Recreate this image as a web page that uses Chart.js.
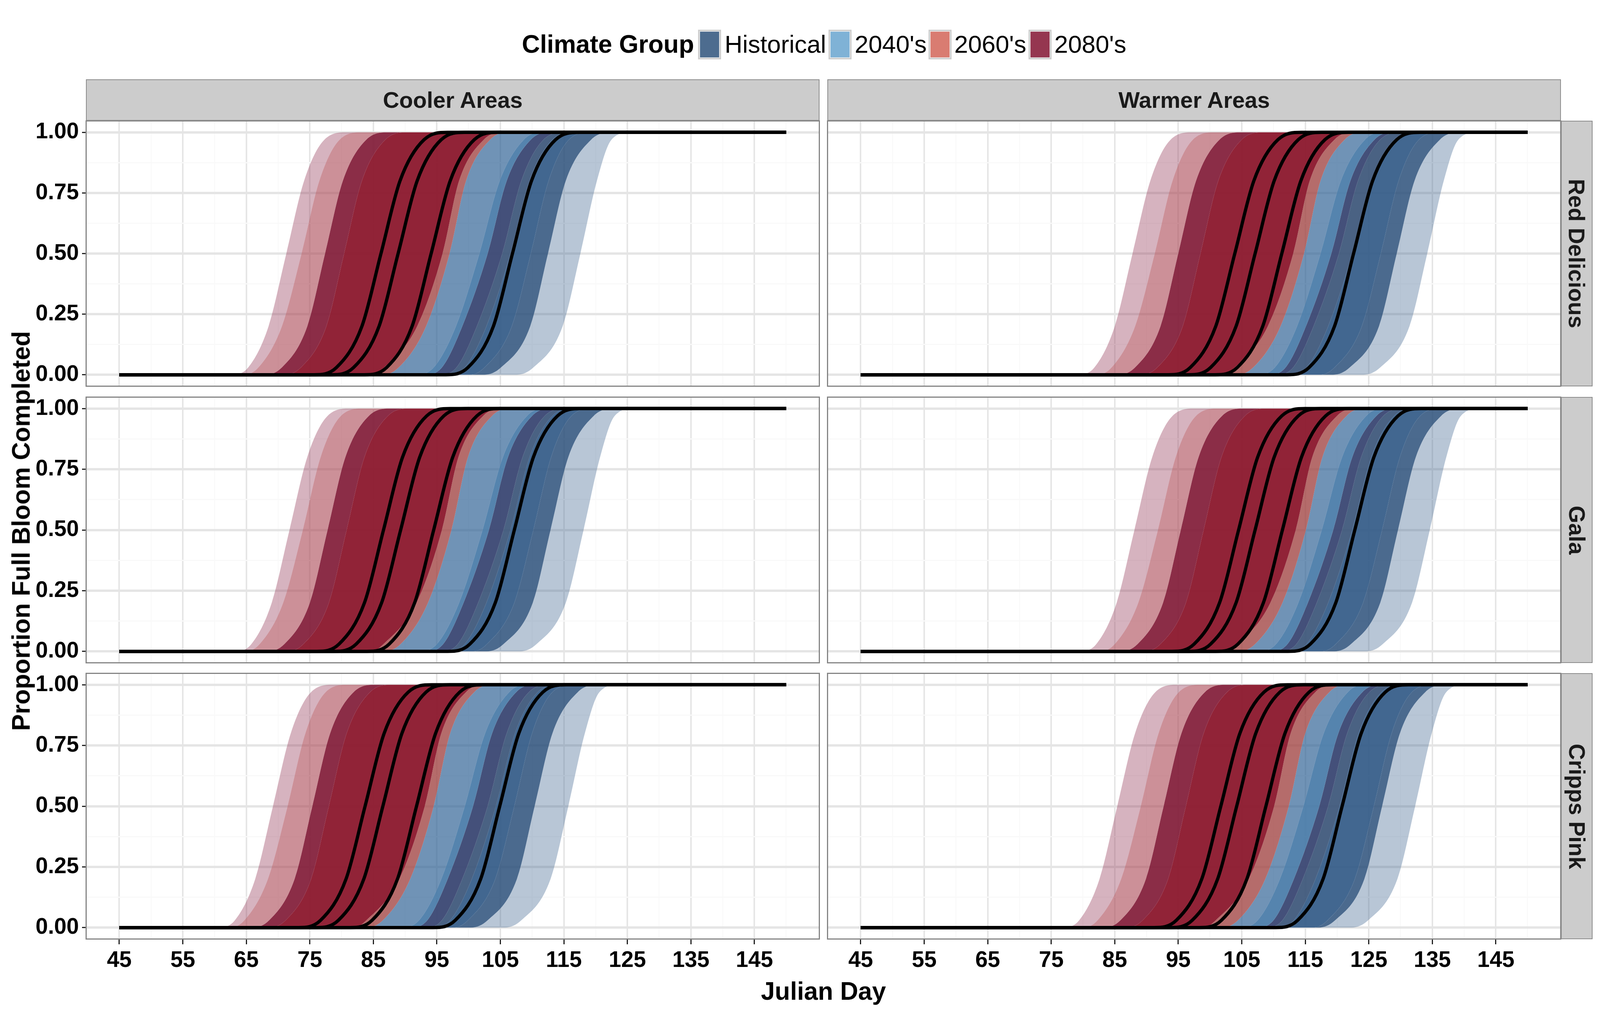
<!DOCTYPE html>
<html>
<head>
<meta charset="utf-8">
<title>Proportion Full Bloom Completed</title>
<script src="https://cdn.jsdelivr.net/npm/chart.js@4"></script>
<style>
    html, body { margin: 0; padding: 0; background: #fff; overflow: hidden; }
    body { font-family: "Liberation Sans", Arial, sans-serif; }
    canvas { position: absolute; display: block; }
    .txt { position: absolute; white-space: nowrap; line-height: 1; color: #000; }
    .strip { position: absolute; box-sizing: border-box; background: #ccc; border: 2px solid #8c8c8c;
             display: flex; align-items: center; justify-content: center;
             font-weight: bold; color: #1a1a1a; white-space: nowrap; }
    .frame { position: absolute; box-sizing: border-box; border: 3px solid #858585; pointer-events: none; }
    .key { position: absolute; box-sizing: border-box; border: 4px solid #cfcfcf; background: #fff; padding: 1px; }
    .key div { width: 100%; height: 100%; }
</style>
</head>
<body>
<script>
/* ============================================
   DATA
   ============================================ */

const legendLabels = ["Historical", "2040's", "2060's", "2080's"];
const columnLabels = ["Cooler Areas", "Warmer Areas"];
const rowLabels = ["Red Delicious", "Gala", "Cripps Pink"];

const dayTicks = [45, 55, 65, 75, 85, 95, 105, 115, 125, 135, 145];
const dayMinorTicks = [50, 60, 70, 80, 90, 100, 110, 120, 130, 140, 150];
const proportionTicks = [0, 0.25, 0.5, 0.75, 1];
const proportionMinorTicks = [0.125, 0.375, 0.625, 0.875];

// every curve runs flat from first to last day
const firstDay = 45;
const lastDay = 150;
// the proportion each column of the tables below is read at
const proportionLevels = [0, 0.03, 0.2, 0.5, 0.8, 0.97, 1];

// colour band edges, Julian day at each proportion level, left to right
const coolerRedEdges = [
    [62.8, 65.3, 68.5, 71.3, 74.1, 77.3, 80.8],
    [64.7, 66.9, 70.6, 73.7, 76.5, 79.7, 83.2],
    [67.9, 70.6, 74.6, 77.4, 80.2, 83.9, 87.4],
    [70.9, 73.6, 77.6, 80.4, 83.2, 86.9, 90.4],
    [84.9, 86.7, 91.9, 95.9, 98.5, 102.4, 105.4],
    [86.5, 89.0, 93.3, 97.0, 99.6, 103.4, 106.5],
    [91.7, 94.5, 98.0, 101.7, 104.9, 108.7, 111.7],
    [93.0, 95.8, 99.0, 103.0, 106.0, 109.8, 113.0],
    [95.3, 98.1, 101.3, 105.3, 108.3, 111.8, 115.3],
    [96.6, 99.4, 102.8, 106.6, 109.6, 113.2, 116.6],
    [100.3, 102.5, 106.8, 109.8, 112.6, 115.8, 119.3],
    [102.5, 105.1, 109.7, 112.5, 115.3, 119.3, 122.5],
    [107.6, 110.2, 114.8, 117.6, 120.2, 122.5, 125.6]
];
const coolerRedMedians = [
    [75.7, 79.2, 83.2, 86.2, 89.2, 93.0, 96.7],
    [78.4, 81.9, 85.9, 88.9, 91.9, 95.7, 99.4],
    [83.6, 87.1, 91.1, 94.1, 97.1, 100.9, 104.6],
    [96.4, 99.9, 103.9, 106.9, 109.9, 113.7, 117.4]
];

const coolerGalaEdges = [
    [63.3, 65.8, 69.0, 71.8, 74.6, 77.8, 81.3],
    [64.9, 67.1, 70.8, 73.9, 76.7, 79.9, 83.4],
    [68.3, 71.0, 75.0, 77.8, 80.6, 84.3, 87.8],
    [71.3, 74.0, 78.0, 80.8, 83.6, 87.3, 90.8],
    [84.8, 86.6, 91.8, 95.8, 98.4, 102.3, 105.3],
    [86.8, 89.3, 93.6, 97.3, 99.9, 103.7, 106.8],
    [92.2, 95.0, 98.5, 102.2, 105.4, 109.2, 112.2],
    [93.2, 96.0, 99.2, 103.2, 106.2, 110.0, 113.2],
    [95.5, 98.3, 101.5, 105.5, 108.5, 112.0, 115.5],
    [96.6, 99.4, 102.8, 106.6, 109.6, 113.2, 116.6],
    [100.7, 102.9, 107.2, 110.2, 113.0, 116.2, 119.7],
    [102.9, 105.5, 110.1, 112.9, 115.7, 119.7, 122.9],
    [108.1, 110.7, 115.3, 118.1, 120.7, 123.0, 126.1]
];
const coolerGalaMedians = [
    [76.1, 79.6, 83.6, 86.6, 89.6, 93.4, 97.1],
    [78.8, 82.3, 86.3, 89.3, 92.3, 96.1, 99.8],
    [84.0, 87.5, 91.5, 94.5, 97.5, 101.3, 105.0],
    [96.7, 100.2, 104.2, 107.2, 110.2, 114.0, 117.7]
];

const coolerCrippsEdges = [
    [60.7, 63.2, 66.4, 69.2, 72.0, 75.2, 78.7],
    [62.5, 64.7, 68.4, 71.5, 74.3, 77.5, 81.0],
    [65.9, 68.6, 72.6, 75.4, 78.2, 81.9, 85.4],
    [68.5, 71.2, 75.2, 78.0, 80.8, 84.5, 88.0],
    [82.1, 83.9, 89.1, 93.1, 95.7, 99.6, 102.6],
    [84.0, 86.5, 90.8, 94.5, 97.1, 100.9, 104.0],
    [89.4, 92.2, 95.7, 99.4, 102.6, 106.4, 109.4],
    [90.7, 93.5, 96.7, 100.7, 103.7, 107.5, 110.7],
    [93.0, 95.8, 99.0, 103.0, 106.0, 109.5, 113.0],
    [94.3, 97.1, 100.5, 104.3, 107.3, 110.9, 114.3],
    [97.7, 99.9, 104.2, 107.2, 110.0, 113.2, 116.7],
    [100.4, 103.0, 107.6, 110.4, 113.2, 117.2, 120.4],
    [105.7, 108.3, 112.9, 115.7, 118.3, 120.6, 123.7]
];
const coolerCrippsMedians = [
    [73.2, 76.7, 80.7, 83.7, 86.7, 90.5, 94.2],
    [76.0, 79.5, 83.5, 86.5, 89.5, 93.3, 97.0],
    [81.3, 84.8, 88.8, 91.8, 94.8, 98.6, 102.3],
    [94.4, 97.9, 101.9, 104.9, 107.9, 111.7, 115.4]
];

const warmerRedEdges = [
    [79.3, 81.8, 85.0, 87.8, 90.6, 93.8, 97.3],
    [82.3, 84.5, 88.2, 91.3, 94.1, 97.3, 100.8],
    [85.5, 88.2, 92.2, 95.0, 97.8, 101.5, 105.0],
    [89.0, 91.7, 95.7, 98.5, 101.3, 105.0, 108.5],
    [102.1, 103.9, 109.1, 113.1, 115.7, 119.6, 122.6],
    [104.3, 106.8, 111.1, 114.8, 117.4, 121.2, 124.3],
    [107.4, 110.2, 113.7, 117.4, 120.6, 124.4, 127.4],
    [109.1, 111.9, 115.1, 119.1, 122.1, 125.9, 129.1],
    [110.3, 113.1, 116.3, 120.3, 123.3, 126.8, 130.3],
    [112.4, 115.2, 118.6, 122.4, 125.4, 129.0, 132.4],
    [117.4, 119.6, 123.9, 126.9, 129.7, 132.9, 136.4],
    [119.4, 122.0, 126.6, 129.4, 132.2, 136.2, 139.4],
    [124.2, 126.8, 131.4, 134.2, 136.8, 139.1, 142.2]
];
const warmerRedMedians = [
    [93.4, 96.9, 100.9, 103.9, 106.9, 110.7, 114.4],
    [96.6, 100.1, 104.1, 107.1, 110.1, 113.9, 117.6],
    [100.8, 104.3, 108.3, 111.3, 114.3, 118.1, 121.8],
    [112.1, 115.6, 119.6, 122.6, 125.6, 129.4, 133.1]
];

const warmerGalaEdges = [
    [79.6, 82.1, 85.3, 88.1, 90.9, 94.1, 97.6],
    [82.8, 85.0, 88.7, 91.8, 94.6, 97.8, 101.3],
    [85.9, 88.6, 92.6, 95.4, 98.2, 101.9, 105.4],
    [89.5, 92.2, 96.2, 99.0, 101.8, 105.5, 109.0],
    [102.5, 104.3, 109.5, 113.5, 116.1, 120.0, 123.0],
    [104.6, 107.1, 111.4, 115.1, 117.7, 121.5, 124.6],
    [107.6, 110.4, 113.9, 117.6, 120.8, 124.6, 127.6],
    [109.4, 112.2, 115.4, 119.4, 122.4, 126.2, 129.4],
    [110.8, 113.6, 116.8, 120.8, 123.8, 127.3, 130.8],
    [112.4, 115.2, 118.6, 122.4, 125.4, 129.0, 132.4],
    [117.6, 119.8, 124.1, 127.1, 129.9, 133.1, 136.6],
    [119.6, 122.2, 126.8, 129.6, 132.4, 136.4, 139.6],
    [124.6, 127.2, 131.8, 134.6, 137.2, 139.5, 142.6]
];
const warmerGalaMedians = [
    [94.0, 97.5, 101.5, 104.5, 107.5, 111.3, 115.0],
    [96.6, 100.1, 104.1, 107.1, 110.1, 113.9, 117.6],
    [100.9, 104.4, 108.4, 111.4, 114.4, 118.2, 121.9],
    [112.3, 115.8, 119.8, 122.8, 125.8, 129.6, 133.3]
];

const warmerCrippsEdges = [
    [76.9, 79.4, 82.6, 85.4, 88.2, 91.4, 94.9],
    [80.1, 82.3, 86.0, 89.1, 91.9, 95.1, 98.6],
    [83.2, 85.9, 89.9, 92.7, 95.5, 99.2, 102.7],
    [86.7, 89.4, 93.4, 96.2, 99.0, 102.7, 106.2],
    [99.1, 100.9, 106.1, 110.1, 112.7, 116.6, 119.6],
    [101.9, 104.4, 108.7, 112.4, 115.0, 118.8, 121.9],
    [104.7, 107.5, 111.0, 114.7, 117.9, 121.7, 124.7],
    [107.2, 110.0, 113.2, 117.2, 120.2, 124.0, 127.2],
    [108.6, 111.4, 114.6, 118.6, 121.6, 125.1, 128.6],
    [110.4, 113.2, 116.6, 120.4, 123.4, 127.0, 130.4],
    [116.3, 118.5, 122.8, 125.8, 128.6, 131.8, 135.3],
    [117.1, 119.7, 124.3, 127.1, 129.9, 133.9, 137.1],
    [122.3, 124.9, 129.5, 132.3, 134.9, 137.2, 140.3]
];
const warmerCrippsMedians = [
    [91.2, 94.7, 98.7, 101.7, 104.7, 108.5, 112.2],
    [93.7, 97.2, 101.2, 104.2, 107.2, 111.0, 114.7],
    [98.3, 101.8, 105.8, 108.8, 111.8, 115.6, 119.3],
    [110.3, 113.8, 117.8, 120.8, 123.8, 127.6, 131.3]
];

/* ============================================
   STYLE AND LAYOUT
   ============================================ */

const legendColors = ["#4d6c8f", "#7fb2d6", "#d97c71", "#953650"];

// fill between edge n and edge n + 1
const bandColors = [
    "rgba(152,65,95,0.4)",
    "rgba(170,70,83,0.6)",
    "rgba(126,22,51,0.9)",
    "rgba(139,23,44,0.95)",
    "rgba(162,71,70,0.8)",
    "rgba(51,101,151,0.7)",
    "rgba(66,119,165,0.9)",
    "rgba(58,71,115,0.95)",
    "rgba(54,81,118,0.9)",
    "rgba(45,87,132,0.9)",
    "rgba(44,80,122,0.85)",
    "rgba(78,113,152,0.4)"
];

// layout is measured on a 5314 x 2598 page and follows the real window size
const scaleX = window.innerWidth / 5314;
const scaleY = window.innerHeight / 2598;
const scaleFont = Math.min(scaleX, scaleY);
const scaleLine = (scaleX + scaleY) / 2;

function px(value) { return Math.round(value * scaleX); }
function py(value) { return Math.round(value * scaleY); }

const columns = [{ left: 286, right: 2722 }, { left: 2748, right: 5184 }];
const rows = [{ top: 309, bottom: 989 }, { top: 1016, bottom: 1697 }, { top: 1723, bottom: 2404 }];

const panelTables = [
    [[coolerRedEdges, coolerRedMedians], [coolerGalaEdges, coolerGalaMedians], [coolerCrippsEdges, coolerCrippsMedians]],
    [[warmerRedEdges, warmerRedMedians], [warmerGalaEdges, warmerGalaMedians], [warmerCrippsEdges, warmerCrippsMedians]]
];

Chart.defaults.font.family = '"Liberation Sans", Arial, sans-serif';
Chart.defaults.animation = false;

function curvePoints(days) {
    const points = [{ x: firstDay, y: 0 }];
    days.forEach(function (day, i) {
        points.push({ x: day, y: proportionLevels[i] });
    });
    points.push({ x: lastDay, y: 1 });
    return points;
}

function buildDatasets(edges, medians) {
    const datasets = [];
    edges.forEach(function (days, i) {
        datasets.push({
            data: curvePoints(days),
            fill: i < bandColors.length ? "+1" : false,
            backgroundColor: bandColors[i] || "transparent",
            borderWidth: 0,
            pointRadius: 0,
            cubicInterpolationMode: "monotone",
            order: 2
        });
    });
    medians.forEach(function (days) {
        datasets.push({
            data: curvePoints(days),
            fill: false,
            borderColor: "#000",
            borderWidth: 9.5 * scaleLine,
            borderCapStyle: "butt",
            borderJoinStyle: "round",
            pointRadius: 0,
            cubicInterpolationMode: "monotone",
            order: 1
        });
    });
    return datasets;
}

function axisOptions(major, minor, range, showLabels, boxSize, label, majorWidth, minorWidth, tickLength) {
    const isMajor = function (value) { return major.indexOf(value) !== -1; };
    return {
        type: "linear",
        min: range[0],
        max: range[1],
        border: { display: false },
        grid: {
            color: function (ctx) { return isMajor(ctx.tick.value) ? "#e5e5e5" : "#f9f9f9"; },
            lineWidth: function (ctx) { return isMajor(ctx.tick.value) ? majorWidth : minorWidth; },
            drawTicks: showLabels,
            tickLength: tickLength,
            tickWidth: 3 * scaleLine,
            tickColor: function (ctx) { return isMajor(ctx.tick.value) ? "#000" : "transparent"; }
        },
        ticks: {
            display: showLabels,
            autoSkip: false,
            maxRotation: 0,
            padding: 8,
            color: "#000",
            font: { size: 74 * scaleFont, weight: "bold" },
            callback: function (value) { return isMajor(value) ? label(value) : ""; }
        },
        afterBuildTicks: function (scale) {
            scale.ticks = major.concat(minor).sort(function (a, b) { return a - b; })
                .map(function (value) { return { value: value }; });
        },
        afterFit: function (scale) {
            // the plot area has to stay the exact panel box, whatever the labels want
            if (scale.isHorizontal()) { scale.height = boxSize; } else { scale.width = boxSize; }
            scale.paddingTop = 0;
            scale.paddingBottom = 0;
            scale.paddingLeft = 0;
            scale.paddingRight = 0;
        }
    };
}

/* ============================================
   PANELS
   ============================================ */

columns.forEach(function (column, c) {
    rows.forEach(function (row, r) {
        const hasY = c === 0;
        const hasX = r === rows.length - 1;
        const left = px(column.left);
        const top = py(row.top);
        const width = px(column.right) - left;
        const height = py(row.bottom) - top;
        const yBox = hasY ? left : 0;
        const xBox = hasX ? window.innerHeight - (top + height) : 0;

        const canvas = document.createElement("canvas");
        canvas.width = width + yBox;
        canvas.height = height + xBox;
        canvas.style.left = (hasY ? 0 : left) + "px";
        canvas.style.top = top + "px";
        canvas.style.width = canvas.width + "px";
        canvas.style.height = canvas.height + "px";
        document.body.appendChild(canvas);

        const tables = panelTables[c][r];
        new Chart(canvas, {
            type: "line",
            data: { datasets: buildDatasets(tables[0], tables[1]) },
            options: {
                responsive: false,
                devicePixelRatio: 1,
                layout: { padding: 0, autoPadding: false },
                plugins: { legend: { display: false }, tooltip: { enabled: false } },
                scales: {
                    x: axisOptions(dayTicks, dayMinorTicks, [39.75, 155.25], hasX, xBox,
                        function (v) { return String(v); }, 5 * scaleX, 3 * scaleX, 13 * scaleY),
                    y: axisOptions(proportionTicks, proportionMinorTicks, [-0.048, 1.048], hasY, yBox,
                        function (v) { return v.toFixed(2); }, 6 * scaleY, 3 * scaleY, 13 * scaleX)
                }
            }
        });

        const frame = document.createElement("div");
        frame.className = "frame";
        frame.style.cssText = "left:" + (left - 1) + "px;top:" + (top - 1) + "px;width:" +
            (width + 2) + "px;height:" + (height + 2) + "px";
        document.body.appendChild(frame);
    });
});

/* ============================================
   STRIPS, TITLES AND LEGEND
   ============================================ */

function addStrip(left, top, right, bottom, text, rotated) {
    const strip = document.createElement("div");
    strip.className = "strip";
    strip.style.cssText = "left:" + px(left) + "px;top:" + py(top) + "px;width:" + (px(right) - px(left)) +
        "px;height:" + (py(bottom) - py(top)) + "px;font-size:" + (75 * scaleFont) + "px";
    const span = document.createElement("span");
    span.textContent = text;
    if (rotated) { span.style.transform = "rotate(90deg)"; }
    strip.appendChild(span);
    document.body.appendChild(strip);
}

columns.forEach(function (column, c) {
    addStrip(column.left, 203, column.right, 309, columnLabels[c], false);
});
rows.forEach(function (row, r) {
    addStrip(5184, row.top, 5289, row.bottom, rowLabels[r], true);
});

// left and top are the anchor point; transform says how the text sits on it
function addText(left, top, size, weight, text, transform) {
    const el = document.createElement("div");
    el.className = "txt";
    el.textContent = text;
    el.style.cssText = "left:" + px(left) + "px;top:" + py(top) + "px;font-size:" + (size * scaleFont) +
        "px;font-weight:" + weight + ";transform:" + transform;
    document.body.appendChild(el);
}

addText(1733, 114, 83, "bold", "Climate Group", "translateY(-50%)");
addText(2735, 2538, 83, "bold", "Julian Day", "translate(-50%,-50%)");
addText(71, 1359, 83, "bold", "Proportion Full Bloom Completed", "translate(-50%,-50%) rotate(-90deg)");

const legendKeyLefts = [2318, 2752, 3084, 3416];
const legendTextLefts = [2407, 2838, 3169, 3501];
legendLabels.forEach(function (label, i) {
    const key = document.createElement("div");
    key.className = "key";
    key.style.cssText = "left:" + px(legendKeyLefts[i]) + "px;top:" + py(76) + "px;width:" + px(76) +
        "px;height:" + py(76) + "px";
    const fill = document.createElement("div");
    fill.style.background = legendColors[i];
    key.appendChild(fill);
    document.body.appendChild(key);
    addText(legendTextLefts[i], 114, 82, "normal", label, "translateY(-50%)");
});
</script>
</body>
</html>
